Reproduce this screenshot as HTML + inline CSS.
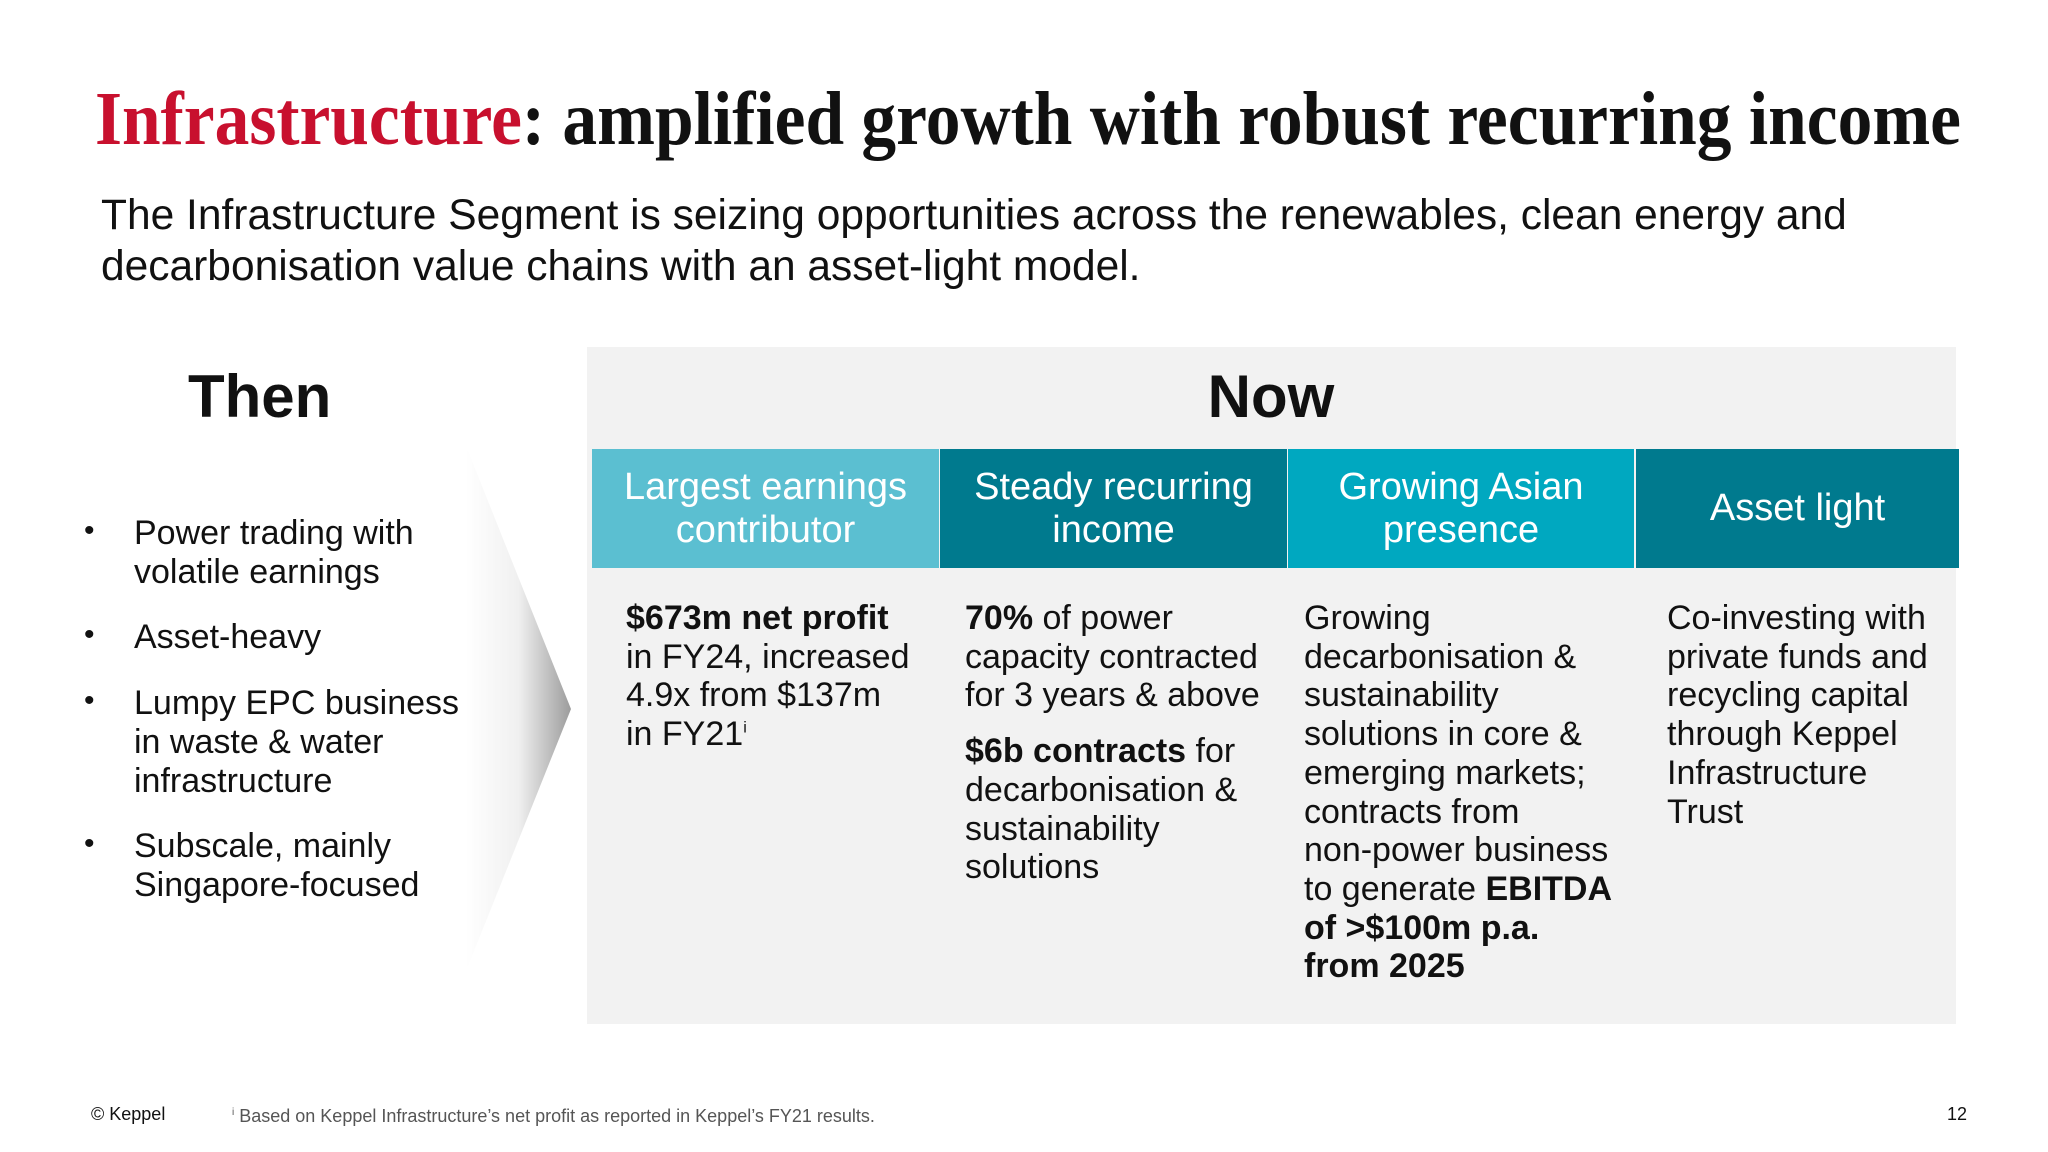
<!DOCTYPE html>
<html><head><meta charset="utf-8"><style>
html,body{margin:0;padding:0;background:#fff;}
body{width:2048px;height:1152px;position:relative;overflow:hidden;font-family:"Liberation Sans",sans-serif;color:#111;}
.abs{position:absolute;}
.sub{left:101px;top:190px;font-size:42.5px;line-height:51px;color:#111;}
.box{left:587px;top:347px;width:1369px;height:677px;background:#f2f2f2;}
.hdr{top:449px;height:119px;display:flex;align-items:center;justify-content:center;text-align:center;color:#fff;font-size:38px;line-height:43px;}
.col{top:599px;font-size:34px;line-height:38.7px;color:#111;}
.bul{left:134px;font-size:34px;line-height:39px;}
.dot{left:84px;font-size:30px;}
sup{line-height:0;}
b{font-weight:bold;}
</style></head><body>
<svg class="abs" style="left:0;top:0" width="2048" height="1152">
<defs><linearGradient id="g" x1="0" x2="1" y1="0" y2="0"><stop offset="0" stop-color="#fff"/><stop offset="0.5" stop-color="#f0f0f0"/><stop offset="1" stop-color="#9c9c9c"/></linearGradient></defs>
<polygon points="466,446 571,709 466,971" fill="url(#g)"/>
<text x="95" y="144" font-family="Liberation Serif, serif" font-weight="bold" font-size="76" textLength="1866" lengthAdjust="spacingAndGlyphs"><tspan fill="#c8102e">Infrastructure</tspan><tspan fill="#111">: amplified growth with robust recurring income</tspan></text>
</svg>
<div class="abs sub">The Infrastructure Segment is seizing opportunities across the renewables, clean energy and<br>decarbonisation value chains with an asset-light model.</div>
<div class="abs" style="left:188px;top:362px;font-size:60px;font-weight:bold;">Then</div>
<div class="abs dot" style="top:514px">•</div><div class="abs bul" style="top:514px">Power trading with<br>volatile earnings</div>
<div class="abs dot" style="top:618px">•</div><div class="abs bul" style="top:618px">Asset-heavy</div>
<div class="abs dot" style="top:684px">•</div><div class="abs bul" style="top:684px">Lumpy EPC business<br>in waste &amp; water<br>infrastructure</div>
<div class="abs dot" style="top:827px">•</div><div class="abs bul" style="top:827px">Subscale, mainly<br>Singapore-focused</div>
<div class="abs box"></div>
<div class="abs" style="left:1171px;width:200px;text-align:center;top:362px;font-size:60px;font-weight:bold;">Now</div>
<div class="abs hdr" style="left:592px;width:347px;background:#5bbfd1;">Largest earnings<br>contributor</div>
<div class="abs hdr" style="left:940px;width:347px;background:#007a8e;">Steady recurring<br>income</div>
<div class="abs hdr" style="left:1288px;width:346px;background:#00a8c0;">Growing Asian<br>presence</div>
<div class="abs hdr" style="left:1636px;width:323px;background:#007a8e;">Asset light</div>
<div class="abs col" style="left:626px"><b>$673m net profit</b><br>in FY24, increased<br>4.9x from $137m<br>in FY21<sup style="font-size:16px">i</sup></div>
<div class="abs col" style="left:965px"><b>70%</b> of power<br>capacity contracted<br>for 3 years &amp; above<div style="height:17px"></div><b>$6b contracts</b> for<br>decarbonisation &amp;<br>sustainability<br>solutions</div>
<div class="abs col" style="left:1304px">Growing<br>decarbonisation &amp;<br>sustainability<br>solutions in core &amp;<br>emerging markets;<br>contracts from<br>non-power business<br>to generate <b>EBITDA<br>of &gt;$100m p.a.<br>from 2025</b></div>
<div class="abs col" style="left:1667px">Co-investing with<br>private funds and<br>recycling capital<br>through Keppel<br>Infrastructure<br>Trust</div>
<div class="abs" style="left:91px;top:1104px;font-size:18px;">© Keppel</div>
<div class="abs" style="left:232px;top:1106px;font-size:18px;color:#555;"><sup style="font-size:10px">i</sup> Based on Keppel Infrastructure’s net profit as reported in Keppel’s FY21 results.</div>
<div class="abs" style="left:1940px;width:27px;text-align:right;top:1104px;font-size:18px;">12</div>
</body></html>
